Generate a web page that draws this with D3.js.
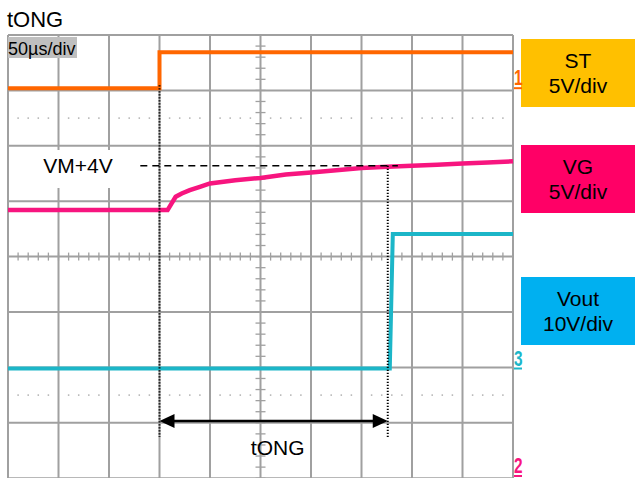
<!DOCTYPE html>
<html><head><meta charset="utf-8">
<script src="https://cdn.jsdelivr.net/npm/d3@7"></script>
<style>body{margin:0;background:#fff}svg{display:block}text{font-family:"Liberation Sans",Arial,sans-serif}</style>
</head><body><svg id="c" width="635" height="478"></svg>
<script>
// ---- data ----
const timeDomain = [0, 500];            // µs (50 µs/div, 10 div)
const divDomain = [-4, 4];              // vertical divisions
const stTime = [0, 150, 150, 500];      // µs
const stVolt = [0, 0, 3.25, 3.25];      // V
const vgTime = [0, 158, 162, 166, 172, 180, 190, 200, 225, 250, 275, 300, 325, 350, 376, 400, 425, 450, 475, 500];
const vgVolt = [24, 24, 24.6, 25.2, 25.5, 25.8, 26.1, 26.4, 26.7, 26.9, 27.2, 27.4, 27.6, 27.8, 27.9, 28.0, 28.1, 28.2, 28.3, 28.4];
const voTime = [0, 378, 381, 500];
const voVolt = [0, 0, 24.3, 24.3];
const channels = ["ST", "VG", "Vout"];
const channelScale = ["5V/div", "5V/div", "10V/div"];
const voltsPerDiv = [5, 5, 10];
const groundDiv = [3.04, -3.96, -2.02];
const markerLabels = ["1", "2", "3"];
const traceColors = ["#FF6600", "#F7157F", "#1CB6C8"];
const boxColors = ["#FFC000", "#FF0066", "#00B0F0"];
const refLevel = 28;            // VM+4V on VG
const refLabel = "VM+4V";
const tOnStart = 150, tOnEnd = 376;
const dashStart = 131, dashEnd = 386;
const titleText = "tONG";
const timebaseText = "50µs/div";
const arrowLabel = "tONG";

// ---- layout ----
const svg = d3.select("#c");
const x = d3.scaleLinear().domain(timeDomain).range([8, 513]);
const yd = d3.scaleLinear().domain(divDomain).range([478.2, 35]);
const yV = (ch, v) => yd(groundDiv[ch] + v / voltsPerDiv[ch]);
const gridColor = "#a0a0a0";

// grid
const g = svg.append("g");
d3.range(0, 11).forEach(i => {
  const t = timeDomain[0] + i * 50;
  g.append("line").attr("x1", x(t)).attr("x2", x(t)).attr("y1", yd(4)).attr("y2", yd(-4))
    .attr("stroke", gridColor).attr("stroke-width", 2);
});
d3.range(-4, 5).forEach(d => {
  g.append("line").attr("x1", x(0)).attr("x2", x(500)).attr("y1", yd(d)).attr("y2", yd(d))
    .attr("stroke", gridColor).attr("stroke-width", 2);
});
// center axis ticks
d3.range(0, 500.01, 10).forEach(t => {
  g.append("line").attr("x1", x(t)).attr("x2", x(t)).attr("y1", yd(0) - 4).attr("y2", yd(0) + 4)
    .attr("stroke", gridColor).attr("stroke-width", 1.3);
});
d3.range(-4, 4.01, 0.2).forEach(d => {
  g.append("line").attr("x1", x(250) - 5).attr("x2", x(250) + 5).attr("y1", yd(d)).attr("y2", yd(d))
    .attr("stroke", gridColor).attr("stroke-width", 1.3);
});
// dot rows
[2.5, -2.5].forEach(d => {
  d3.range(0, 500.01, 10).filter(t => t % 50 !== 0).forEach(t => {
    g.append("rect").attr("x", x(t) - 0.75).attr("y", yd(d) - 0.75).attr("width", 1.5).attr("height", 1.5)
      .attr("fill", "#b0b0b0");
  });
});

// white label box for VM+4V
svg.append("rect").attr("x", 25).attr("y", 150).attr("width", 115).attr("height", 38).attr("fill", "#fff");
svg.append("text").attr("x", 78).attr("y", 173).attr("text-anchor", "middle").attr("font-size", 21)
  .attr("fill", "#000").text(refLabel);

// traces
const line = ch => d3.line().x(d => x(d[0])).y(d => yV(ch, d[1]));
const series = [d3.zip(stTime, stVolt), d3.zip(vgTime, vgVolt), d3.zip(voTime, voVolt)];
[1, 2, 0].forEach(ch => {
  svg.append("path").attr("d", line(ch)(series[ch])).attr("fill", "none")
    .attr("stroke", traceColors[ch]).attr("stroke-width", ch === 1 ? 4.5 : 4);
});

// dashed reference
svg.append("line").attr("x1", x(dashStart)).attr("x2", x(dashEnd)).attr("y1", yV(1, refLevel)).attr("y2", yV(1, refLevel))
  .attr("stroke", "#000").attr("stroke-width", 1.6).attr("stroke-dasharray", "7,5");
// dotted verticals
svg.append("line").attr("x1", x(tOnStart)).attr("x2", x(tOnStart)).attr("y1", yV(0, 0) - 3).attr("y2", 437)
  .attr("stroke", "#000").attr("stroke-width", 2).attr("stroke-dasharray", "1.2,1.8");
svg.append("line").attr("x1", x(tOnEnd)).attr("x2", x(tOnEnd)).attr("y1", yV(1, refLevel)).attr("y2", 437)
  .attr("stroke", "#000").attr("stroke-width", 2).attr("stroke-dasharray", "1.2,1.8");

// arrow
const ay = 421;
svg.append("line").attr("x1", x(tOnStart) + 10).attr("x2", x(tOnEnd) - 10).attr("y1", ay).attr("y2", ay)
  .attr("stroke", "#000").attr("stroke-width", 2.5);
const a1 = x(tOnStart), a2 = x(tOnEnd);
svg.append("path").attr("d", `M${a1},${ay} L${a1 + 15},${ay - 7} L${a1 + 15},${ay + 7} Z`).attr("fill", "#000");
svg.append("path").attr("d", `M${a2},${ay} L${a2 - 15},${ay - 7} L${a2 - 15},${ay + 7} Z`).attr("fill", "#000");
svg.append("text").attr("x", x((tOnStart + tOnEnd) / 2 + 4)).attr("y", 455).attr("text-anchor", "middle").attr("font-size", 21)
  .attr("fill", "#000").text(arrowLabel);

// title
svg.append("text").attr("x", 7).attr("y", 27).attr("font-size", 22).attr("fill", "#000").text(titleText);
svg.append("rect").attr("x", 8).attr("y", 37).attr("width", 69).attr("height", 21).attr("fill", "#BFBFBF");
svg.append("text").attr("x", 8).attr("y", 55).attr("font-size", 18).attr("fill", "#000").text(timebaseText);

// legend boxes
const boxY = [39, 145, 277];
channels.forEach((c, i) => {
  svg.append("rect").attr("x", 521).attr("y", boxY[i]).attr("width", 114).attr("height", 68).attr("fill", boxColors[i]);
  svg.append("text").attr("x", 578).attr("y", boxY[i] + 29).attr("text-anchor", "middle").attr("font-size", 21)
    .attr("fill", "#000").text(c);
  svg.append("text").attr("x", 578).attr("y", boxY[i] + 54).attr("text-anchor", "middle").attr("font-size", 21)
    .attr("fill", "#000").text(channelScale[i]);
});

// channel ground markers
[0, 2, 1].forEach(ch => {
  const gy = yV(ch, 0);
  svg.append("text").attr("x", 0).attr("y", 0).attr("font-size", 22).attr("font-weight", "bold")
    .attr("fill", traceColors[ch]).attr("text-anchor", "start")
    .attr("transform", `translate(514,${gy - 3}) scale(0.7,1)`).text(markerLabels[ch]);
  svg.append("line").attr("x1", 514).attr("x2", 522).attr("y1", gy).attr("y2", gy)
    .attr("stroke", traceColors[ch]).attr("stroke-width", 2);
});
</script></body></html>
